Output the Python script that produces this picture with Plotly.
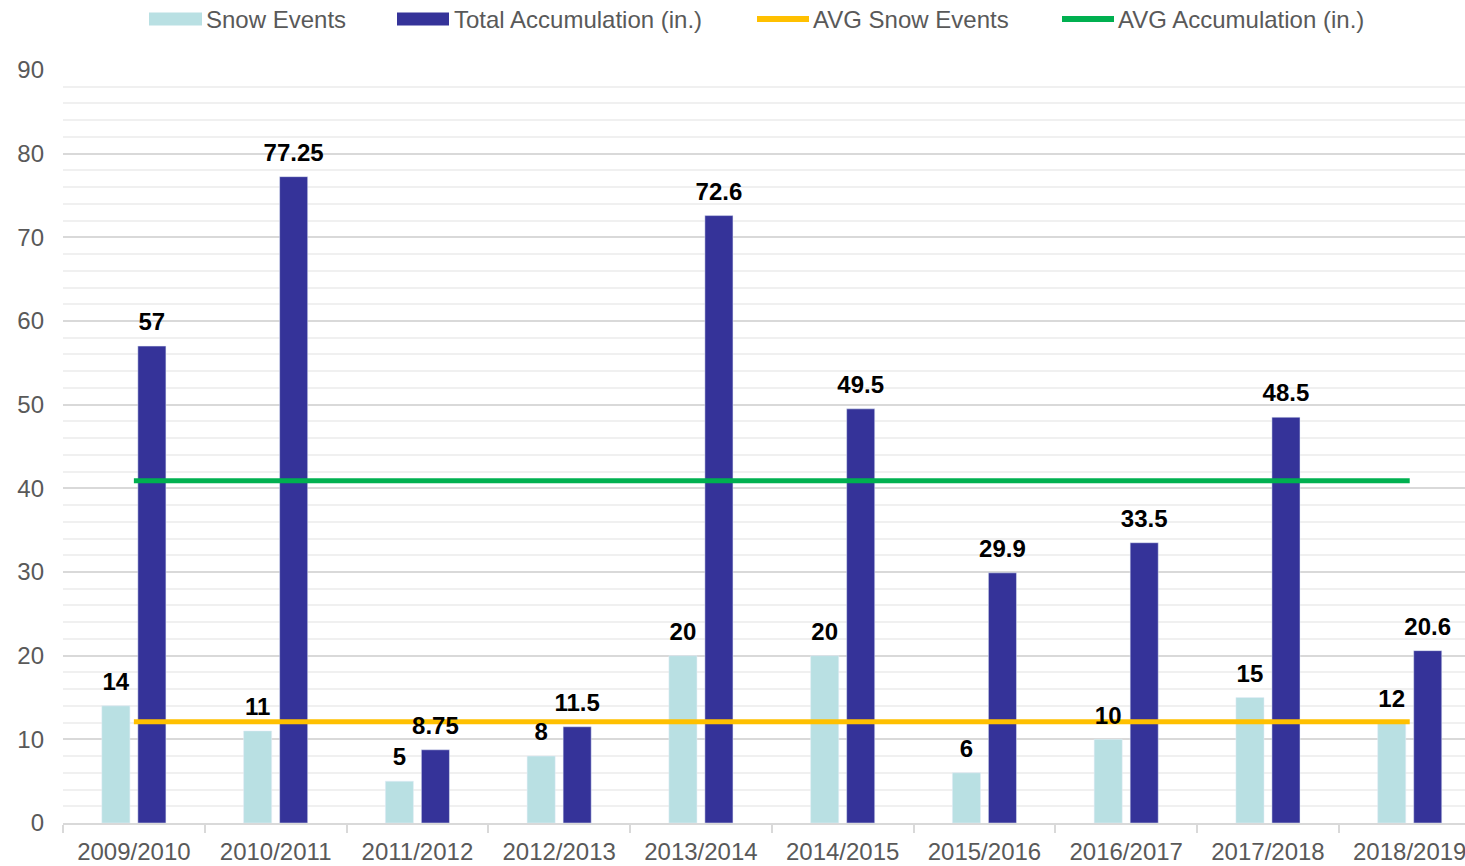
import plotly.graph_objects as go

categories = ["2009/2010", "2010/2011", "2011/2012", "2012/2013", "2013/2014",
              "2014/2015", "2015/2016", "2016/2017", "2017/2018", "2018/2019"]
snow_events = [14, 11, 5, 8, 20, 20, 6, 10, 15, 12]
total_accum = [57, 77.25, 8.75, 11.5, 72.6, 49.5, 29.9, 33.5, 48.5, 20.6]
avg_snow_events = [12.1, 12.1, 12.1, 12.1, 12.1, 12.1, 12.1, 12.1, 12.1, 12.1]
avg_accum = [40.9, 40.9, 40.9, 40.9, 40.9, 40.9, 40.9, 40.9, 40.9, 40.9]
y_ticks = [0, 10, 20, 30, 40, 50, 60, 70, 80, 90]

names = ["Snow Events", "Total Accumulation (in.)", "AVG Snow Events", "AVG Accumulation (in.)"]
C_SNOW = "#B9E0E3"
C_ACC = "#353399"
C_AVGS = "#FFC000"
C_AVGA = "#00B050"
FONT = "Liberation Sans, Arial, sans-serif"
GREY = "#595959"

W, H = 1465, 866
ML, MR, MT, MB = 63, 0, 70, 43
PW = W - ML - MR
PH = H - MT - MB

xs = list(range(len(categories)))
BW = 0.198
SHIFT = 0.127

fig = go.Figure()
fig.add_trace(go.Bar(x=xs, y=snow_events, name=names[0], marker_color=C_SNOW,
                     width=BW, offset=-SHIFT - BW / 2, showlegend=False))
fig.add_trace(go.Bar(x=xs, y=total_accum, name=names[1], marker_color=C_ACC,
                     width=BW, offset=SHIFT - BW / 2, showlegend=False))
fig.add_trace(go.Scatter(x=xs, y=avg_snow_events, name=names[2], mode="lines",
                         line=dict(color=C_AVGS, width=5), showlegend=False))
fig.add_trace(go.Scatter(x=xs, y=avg_accum, name=names[3], mode="lines",
                         line=dict(color=C_AVGA, width=5), showlegend=False))

# data labels on top of everything
label_font = dict(family=FONT, size=24, color="black", weight="bold")
fig.add_trace(go.Scatter(x=[v - SHIFT for v in xs], y=snow_events, mode="markers+text",
                         marker=dict(size=14, opacity=0),
                         text=[str(v) for v in snow_events], textposition="top center",
                         textfont=label_font, showlegend=False, hoverinfo="skip"))
fig.add_trace(go.Scatter(x=[v + SHIFT for v in xs], y=total_accum, mode="markers+text",
                         marker=dict(size=14, opacity=0),
                         text=[str(v) for v in total_accum], textposition="top center",
                         textfont=label_font, showlegend=False, hoverinfo="skip"))

# custom legend (pixel positions converted to paper coords)
def px(xp):
    return (xp - ML) / PW

def py(yp):
    return (H - MB - yp) / PH

legend_items = [
    (names[0], "bar", C_SNOW, 149, 202, 204),
    (names[1], "bar", C_ACC, 397, 449, 452),
    (names[2], "line", C_AVGS, 757, 809, 811),
    (names[3], "line", C_AVGA, 1062, 1114, 1116),
]
shapes = []
annotations = []
LY = 19
for name, kind, col, x0, x1, tx in legend_items:
    if kind == "bar":
        shapes.append(dict(type="rect", xref="paper", yref="paper",
                           x0=px(x0), x1=px(x1), y0=py(LY + 6.5), y1=py(LY - 6.5),
                           fillcolor=col, line=dict(width=0)))
    else:
        shapes.append(dict(type="line", xref="paper", yref="paper",
                           x0=px(x0), x1=px(x1), y0=py(LY), y1=py(LY),
                           line=dict(color=col, width=6)))
    annotations.append(dict(text=name, xref="paper", yref="paper", x=px(tx), y=py(LY),
                            xanchor="left", yanchor="middle", showarrow=False,
                            font=dict(family=FONT, size=24, color=GREY)))

fig.update_layout(
    width=W, height=H,
    margin=dict(l=ML, r=MR, t=MT, b=MB),
    paper_bgcolor="white", plot_bgcolor="white",
    barmode="overlay",
    font=dict(family=FONT, size=24, color=GREY),
    shapes=shapes, annotations=annotations,
    xaxis=dict(range=[-0.5, (PW / 141.76) - 0.5], tickmode="array", tickvals=xs,
               ticktext=categories, ticks="", showgrid=False, zeroline=False,
               showline=True, linecolor="#D9D9D9", linewidth=1.5,
               tickfont=dict(family=FONT, size=24, color=GREY),
               ticklabelstandoff=6, ticklabeloverflow="allow",
               minor=dict(tickmode="array",
                          tickvals=[v - 0.5 for v in xs] + [xs[-1] + 0.5],
                          ticks="outside", ticklen=8, tickcolor="#D9D9D9",
                          tickwidth=1.5, showgrid=False)),
    yaxis=dict(range=[0, 90], tickmode="array", tickvals=y_ticks,
               showgrid=True, gridcolor="#D9D9D9", gridwidth=1.5,
               zeroline=False, ticks="", ticklabelstandoff=18,
               tickfont=dict(family=FONT, size=24, color=GREY),
               minor=dict(dtick=2, tick0=0, showgrid=True, gridcolor="#F0F0F0",
                          gridwidth=1.5)),
)

fig.write_html("out.html", config={"displayModeBar": False},
               post_script="document.body.style.margin='0';document.body.style.overflow='hidden';")
